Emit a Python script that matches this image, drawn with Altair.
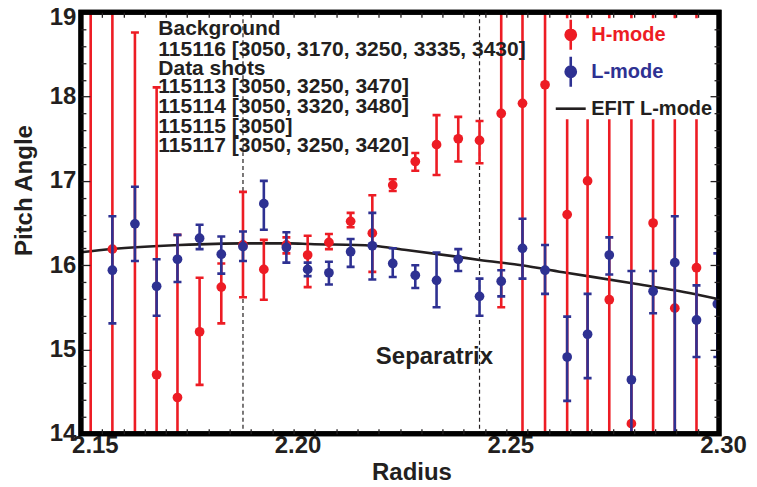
import altair as alt
import pandas as pd

# ---------------- data ----------------
RADIUS = [2.1523, 2.1574, 2.1627, 2.1678, 2.1727, 2.1779, 2.1830, 2.1881, 2.1930, 2.1983,
          2.2033, 2.2083, 2.2134, 2.2185, 2.2233, 2.2286, 2.2336, 2.2387, 2.2437, 2.2488,
          2.2538, 2.2591, 2.2643, 2.2691, 2.2742, 2.2794, 2.2845, 2.2896, 2.2947, 2.2996]

# H-mode (red): value, lower and upper end of error bar (13.5 / 19.5 = beyond the frame)
H_VAL = [None, 16.19, None, 14.70, 14.43, 15.21, 15.74, 16.24, 15.95, 16.24,
         16.12, 16.27, 16.52, 16.38, 16.95, 17.23, 17.43, 17.50, 17.48, 17.80,
         17.92, 18.14, 16.60, 17.00, 15.59, 14.12, 16.50, 15.49, 15.97]
H_LO = [13.5, 13.5, 13.5, 13.5, 13.5, 14.58, 15.31, 15.62, 15.59, 16.14,
        15.74, 16.19, 16.45, 15.92, 16.88, 17.12, 17.07, 17.23, 17.21, 15.50,
        13.5, 13.5, 13.5, 13.5, 13.5, 13.5, 13.5, 13.5, 13.5]
H_HI = [19.5, 19.5, 18.76, 18.11, 16.36, 15.85, 16.02, 16.87, 16.30, 16.33,
        16.35, 16.37, 16.62, 16.83, 17.02, 17.33, 17.78, 17.76, 17.71, 19.5,
        19.5, 19.5, 19.5, 19.5, 19.5, 19.5, 19.5, 19.5, 19.5]

# L-mode (blue), starting at the second radius
L_VAL = [15.94, 16.49, 15.75, 16.07, 16.32, 16.13, 16.22, 16.73, 16.21,
         15.95, 15.91, 16.16, 16.23, 16.02, 15.88, 15.82, 16.07, 15.63, 15.81,
         16.20, 15.94, 14.91, 15.18, 16.12, 14.64, 15.69, 16.03, 15.35, 15.54]
L_LO = [15.31, 16.05, 15.40, 15.80, 16.19, 15.90, 16.05, 16.42, 16.03,
        15.87, 15.77, 15.98, 15.83, 15.86, 15.73, 15.50, 15.93, 15.40, 15.63,
        15.84, 15.66, 14.39, 14.66, 15.89, 13.5, 15.43, 13.5, 14.91, 14.91]
L_HI = [16.58, 16.93, 16.07, 16.36, 16.48, 16.34, 16.40, 17.00, 16.39,
        16.03, 16.04, 16.31, 16.62, 16.20, 16.00, 16.15, 16.19, 15.84, 15.94,
        16.55, 16.24, 15.39, 15.66, 16.33, 15.93, 15.93, 16.58, 15.76, 16.14]

# EFIT L-mode curve
EFIT_R = [2.1500, 2.1573, 2.1732, 2.1880, 2.1991, 2.2038, 2.2185, 2.2265, 2.2383,
          2.2437, 2.2531, 2.2641, 2.2796, 2.2953, 2.3000]
EFIT_P = [16.153, 16.192, 16.239, 16.259, 16.259, 16.251, 16.231, 16.180, 16.101,
          16.062, 16.002, 15.911, 15.785, 15.646, 15.595]

SEPARATRIX_R = [2.1881, 2.2437]

NOTE_LINES = ["Background", "115116 [3050, 3170, 3250, 3335, 3430]", "Data shots",
              "115113 [3050, 3250, 3470]", "115114 [3050, 3320, 3480]",
              "115115 [3050]", "115117 [3050, 3250, 3420]"]
NOTE_P = [18.807, 18.558, 18.333, 18.108, 17.871, 17.641, 17.416]
NOTE_R = 2.1682

SEP_LABEL = "Separatrix"
SEP_LABEL_R = 2.2331
SEP_LABEL_P = 14.916

SERIES = ["H-mode", "L-mode", "EFIT L-mode"]

X_TICKS_FIRST = [2.15]
X_TICKS_REST = [2.20, 2.25, 2.30]
Y_TICKS_LOW = [14, 15, 16, 17, 18]
Y_TICKS_TOP = [19]
X_MINOR = [round(2.15 + 0.005 * i, 3) for i in range(1, 30)]
Y_MINOR = [round(14 + 0.2 * i, 1) for i in range(1, 25) if i % 5 != 0]
Y_MAJOR = [15, 16, 17, 18]

# ---------------- style ----------------
RED = "#ed1c24"
BLUE = "#2e3192"
INK = "#231f20"
FONT = "Liberation Sans"
W, H = 639, 422

h_df = pd.DataFrame({"r": RADIUS[:len(H_VAL)], "v": H_VAL, "lo": H_LO, "hi": H_HI})
l_df = pd.DataFrame({"r": RADIUS[1:1 + len(L_VAL)], "v": L_VAL, "lo": L_LO, "hi": L_HI})
efit_df = pd.DataFrame({"r": EFIT_R, "p": EFIT_P})
sep_df = pd.DataFrame({"r": SEPARATRIX_R})
note_df = pd.DataFrame({"r": [NOTE_R] * len(NOTE_LINES), "p": NOTE_P, "t": NOTE_LINES})
sep_lab_df = pd.DataFrame({"r": [SEP_LABEL_R], "p": [SEP_LABEL_P], "t": [SEP_LABEL]})
leg_df = pd.DataFrame({"r": [2.2] * 3, "p": [16.0] * 3, "s": SERIES})

XS = alt.Scale(domain=[2.15, 2.30], nice=False, zero=False)
YS = alt.Scale(domain=[14, 19], nice=False, zero=False)


def tick_axis(orient, values, size, offset):
    return alt.Axis(orient=orient, values=values, tickSize=size, tickWidth=1.3,
                    tickColor=INK, labels=False, domain=False, grid=False,
                    title=None, offset=offset, zindex=1)


def x_label_axis(values, shift, with_title):
    kw = dict(orient="bottom", values=values, format=".2f", ticks=False, domain=False,
              grid=False, labelFont=FONT, labelFontSize=24, labelFontWeight="bold",
              labelColor=INK, labelPadding=0, labelFlush=False, labelOverlap=False,
              labelOffset=shift)
    if with_title:
        kw.update(title="Radius", titleFont=FONT, titleFontSize=24, titleFontWeight="bold",
                  titleColor=INK, titleX=331, titleY=46, titleBaseline="alphabetic",
                  titleAlign="center")
    else:
        kw.update(title=None)
    return alt.Axis(**kw)


def y_label_axis(values, shift, with_title):
    kw = dict(orient="left", values=values, format="d", ticks=False, domain=False,
              grid=False, labelFont=FONT, labelFontSize=24, labelFontWeight="bold",
              labelColor=INK, labelPadding=5, labelOverlap=False, labelFlush=False,
              labelOffset=shift)
    if with_title:
        kw.update(title="Pitch Angle", titleFont=FONT, titleFontSize=24,
                  titleFontWeight="bold", titleColor=INK, titleX=-49, titleY=178,
                  titleBaseline="alphabetic", titleAlign="center", titleAngle=270)
    else:
        kw.update(title=None)
    return alt.Axis(**kw)


sep_rules = alt.Chart(sep_df).mark_rule(color=INK, strokeWidth=1.2, strokeDash=[4, 3]).encode(
    x=alt.X("r:Q", scale=XS, axis=x_label_axis(X_TICKS_REST, 4, True)),
    y=alt.value(0), y2=alt.value(H))

label_carrier = alt.Chart(sep_df).mark_rule(opacity=0).encode(
    x=alt.X("r:Q", scale=XS, axis=tick_axis("top", X_MINOR, 5, -H)),
    y=alt.Y("r2:Q", scale=YS, axis=y_label_axis(Y_TICKS_LOW, 0, True))
).transform_calculate(r2="16")

efit = alt.Chart(efit_df).mark_line(color=INK, strokeWidth=2.6, interpolate="monotone",
                                    clip=True).encode(
    x=alt.X("r:Q", scale=XS, axis=tick_axis("bottom", X_MINOR, 5, -H)),
    y=alt.Y("p:Q", scale=YS, axis=tick_axis("right", Y_MINOR, 5, -W)))


def err_layers(df, color, ax_rule, ax_lo, ax_hi):
    rules = alt.Chart(df).mark_rule(color=color, strokeWidth=2.6, clip=True).encode(
        x=alt.X("r:Q", scale=XS, axis=None),
        y=alt.Y("lo:Q", scale=YS, axis=ax_rule), y2="hi:Q")
    cap_lo = alt.Chart(df).mark_tick(color=color, orient="horizontal", size=8,
                                     thickness=2.6, opacity=1, clip=True).encode(
        x=alt.X("r:Q", scale=XS, axis=None),
        y=alt.Y("lo:Q", scale=YS, axis=ax_lo))
    cap_hi = alt.Chart(df).mark_tick(color=color, orient="horizontal", size=8,
                                     thickness=2.6, opacity=1, clip=True).encode(
        x=alt.X("r:Q", scale=XS, axis=None),
        y=alt.Y("hi:Q", scale=YS, axis=ax_hi))
    pts = alt.Chart(df).mark_point(filled=True, color=color, size=95, opacity=1,
                                   shape="circle", clip=True).encode(
        x=alt.X("r:Q", scale=XS, axis=None),
        y=alt.Y("v:Q", scale=YS, axis=None))
    return [rules, cap_lo, cap_hi, pts]


red_layers = err_layers(h_df, RED, tick_axis("right", Y_MAJOR, 9, -W),
                        tick_axis("left", Y_MINOR, 5, -W), tick_axis("left", Y_MAJOR, 9, -W))
blue_layers = err_layers(l_df, BLUE, None, None, None)

notes = alt.Chart(note_df).mark_text(align="left", baseline="middle", font=FONT,
                                     fontSize=21, fontWeight="bold", color=INK).encode(
    x=alt.X("r:Q", scale=XS, axis=x_label_axis(X_TICKS_FIRST, 14, False)),
    y=alt.Y("p:Q", scale=YS, axis=y_label_axis(Y_TICKS_TOP, 5, False)),
    text="t:N")
sep_label = alt.Chart(sep_lab_df).mark_text(align="center", baseline="middle", font=FONT,
                                            fontSize=24, fontWeight="bold", color=INK).encode(
    x=alt.X("r:Q", scale=XS, axis=None), y=alt.Y("p:Q", scale=YS, axis=None), text="t:N")

# plot frame
frame = alt.Chart(sep_df).mark_rect(fillOpacity=0, stroke="black", strokeWidth=5).encode(
    x=alt.value(0), x2=alt.value(W), y=alt.value(0), y2=alt.value(H))

ERR_PATH = ("M0,-1L0,1M-0.34,0A0.34,0.34 0 1 0 0.34,0A0.34,0.34 0 1 0 -0.34,0Z")
LINE_PATH = "M-1,0L1,0"
legend = alt.Legend(
    title=None, orient="top-right", offset=6, padding=0, fillColor="white",
    labelFont=FONT, labelFontSize=20, labelFontWeight="bold", labelOffset=4,
    labelColor={"expr": "datum.label == 'H-mode' ? '%s' : (datum.label == 'L-mode' ? '%s' : '%s')" % (RED, BLUE, INK)},
    symbolSize=900, symbolStrokeWidth=2.6, rowPadding=-7, labelLimit=200)
leg = alt.Chart(leg_df).mark_point(filled=True, opacity=1, clip=True).encode(
    x=alt.X("r:Q", scale=XS, axis=None), y=alt.Y("p:Q", scale=YS, axis=None),
    color=alt.Color("s:N", scale=alt.Scale(domain=SERIES, range=[RED, BLUE, "transparent"]),
                    legend=legend),
    stroke=alt.Stroke("s:N", scale=alt.Scale(domain=SERIES, range=[RED, BLUE, INK]),
                      legend=legend),
    shape=alt.Shape("s:N", scale=alt.Scale(domain=SERIES, range=[ERR_PATH, ERR_PATH, LINE_PATH]),
                    legend=legend),
).transform_filter("false")

chart = alt.layer(
    sep_rules, label_carrier, efit, *red_layers, *blue_layers, notes, sep_label, frame, leg
).resolve_axis(x="independent", y="independent").properties(
    width=W, height=H,
    autosize=alt.AutoSizeParams(type="none"),
    padding={"left": 73, "top": 4, "right": 30, "bottom": 50},
).configure_view(strokeWidth=0).configure(font=FONT)

chart.save("out.html", embed_options={"renderer": "svg", "actions": False})
